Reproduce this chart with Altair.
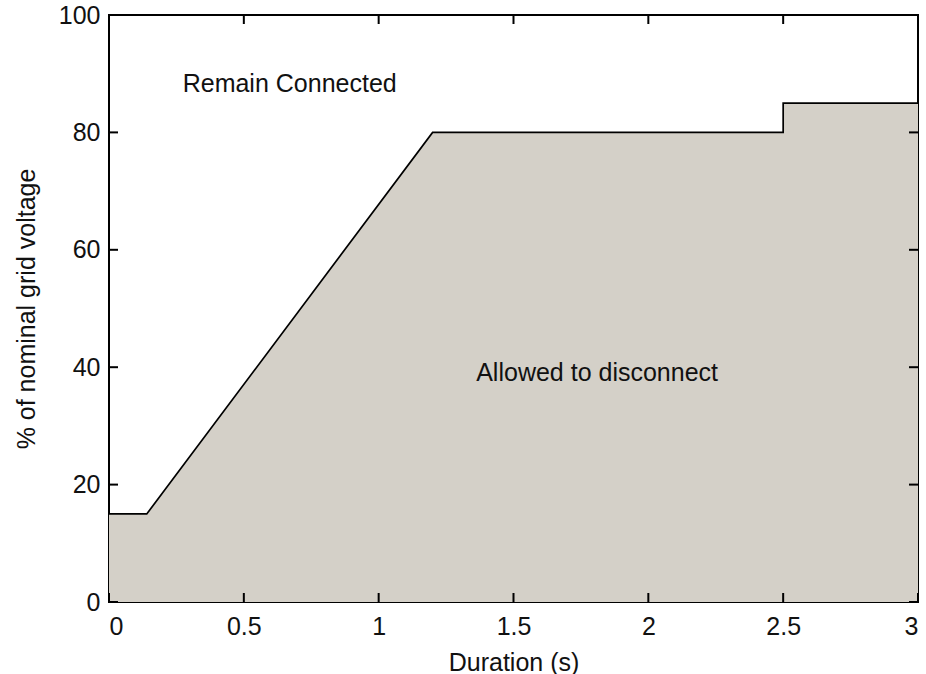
import altair as alt
import pandas as pd

# Fault ride-through boundary: duration (s) vs. % of nominal grid voltage
duration = [0.0, 0.14, 1.2, 2.5, 2.5, 3.0]
voltage = [15, 15, 80, 80, 85, 85]

x_ticks = [0, 0.5, 1, 1.5, 2, 2.5, 3]
y_ticks = [0, 20, 40, 60, 80, 100]

note_text = ["Remain Connected", "Allowed to disconnect"]
note_x = [0.67, 1.81]
note_y = [88.2, 39.0]

W, H = 809, 587
FONT = "Liberation Sans"
FS = 25
TICK = 9

curve = pd.DataFrame({"t": duration, "v": voltage, "i": range(len(duration))})
xt = pd.DataFrame({"t": x_ticks})
yt = pd.DataFrame({"v": y_ticks})
notes = pd.DataFrame({"label": note_text, "t": note_x, "v": note_y})

xs = alt.Scale(domain=[0, 3], nice=False, zero=False)
ys = alt.Scale(domain=[0, 100], nice=False)

x_axis = alt.Axis(
    values=x_ticks, labelExpr="datum.value", ticks=False, tickSize=0,
    grid=False, domain=False, labelFont=FONT, labelFontSize=FS,
    labelColor="#111", labelPadding=12, title="Duration (s)",
    titleFont=FONT, titleFontSize=FS, titleFontWeight="normal",
    titleColor="#111", titlePadding=11,
)
y_axis = alt.Axis(
    values=y_ticks, labelExpr="datum.value", ticks=False, tickSize=0,
    grid=False, domain=False, labelFont=FONT, labelFontSize=FS,
    labelColor="#111", labelPadding=9, title="% of nominal grid voltage",
    titleFont=FONT, titleFontSize=FS, titleFontWeight="normal",
    titleColor="#111", titlePadding=19,
)

area = alt.Chart(curve).mark_area(color="#d4d0c8", opacity=1).encode(
    x=alt.X("t:Q", scale=xs, axis=x_axis),
    y=alt.Y("v:Q", scale=ys, axis=y_axis, stack=None),
)

line = alt.Chart(curve).mark_line(color="black", strokeWidth=1.7).encode(
    x=alt.X("t:Q", scale=xs),
    y=alt.Y("v:Q", scale=ys),
    order="i:Q",
)

# Inward-pointing ticks on all four sides of the frame
tick_style = dict(color="black", strokeWidth=2)
bottom_ticks = alt.Chart(xt).mark_rule(**tick_style).encode(
    x=alt.X("t:Q", scale=xs), y=alt.value(H), y2=alt.value(H - TICK)
)
top_ticks = alt.Chart(xt).mark_rule(**tick_style).encode(
    x=alt.X("t:Q", scale=xs), y=alt.value(0), y2=alt.value(TICK)
)
left_ticks = alt.Chart(yt).mark_rule(**tick_style).encode(
    y=alt.Y("v:Q", scale=ys), x=alt.value(0), x2=alt.value(TICK)
)
right_ticks = alt.Chart(yt).mark_rule(**tick_style).encode(
    y=alt.Y("v:Q", scale=ys), x=alt.value(W), x2=alt.value(W - TICK)
)

labels = alt.Chart(notes).mark_text(
    font=FONT, fontSize=FS, color="#111", align="center", baseline="middle"
).encode(
    x=alt.X("t:Q", scale=xs),
    y=alt.Y("v:Q", scale=ys),
    text="label:N",
)

chart = alt.layer(
    area, line, bottom_ticks, top_ticks, left_ticks, right_ticks, labels
).properties(
    width=W,
    height=H,
    autosize=alt.AutoSizeParams(type="none"),
    padding={"left": 109, "top": 15, "right": 8, "bottom": 72},
    background="white",
).configure_view(
    stroke="black", strokeWidth=2
)

chart.save("out.html", embed_options={"renderer": "svg", "actions": False})
